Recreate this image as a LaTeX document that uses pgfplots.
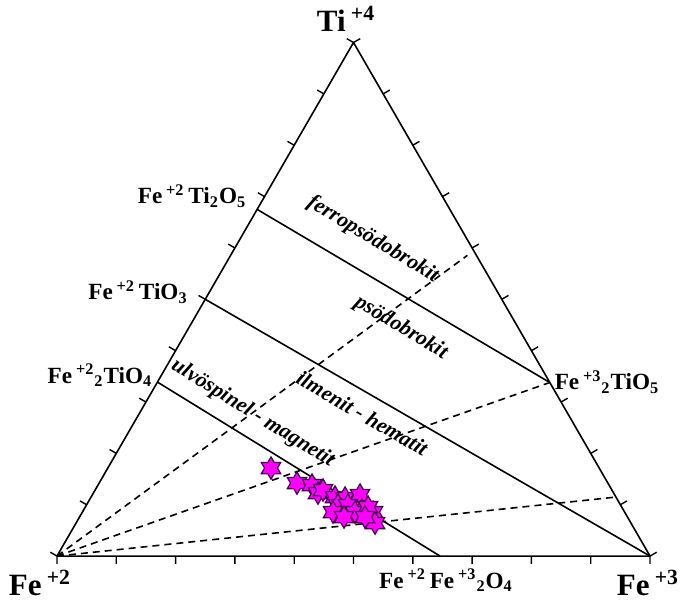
\documentclass[border=0pt]{standalone}
\usepackage{fontspec}
\setmainfont{Liberation Serif}
\usepackage{pgfplots}
\pgfplotsset{compat=1.18}

\definecolor{starfill}{RGB}{255,0,255}
\definecolor{staredge}{RGB}{70,0,80}

\pgfdeclareplotmark{hexstar}{%
 \pgfpathmoveto{\pgfqpoint{0pt}{\pgfplotmarksize}}%
 \pgfpathlineto{\pgfqpoint{-0.2887\pgfplotmarksize}{0.5\pgfplotmarksize}}%
 \pgfpathlineto{\pgfqpoint{-0.866\pgfplotmarksize}{0.5\pgfplotmarksize}}%
 \pgfpathlineto{\pgfqpoint{-0.5774\pgfplotmarksize}{0pt}}%
 \pgfpathlineto{\pgfqpoint{-0.866\pgfplotmarksize}{-0.5\pgfplotmarksize}}%
 \pgfpathlineto{\pgfqpoint{-0.2887\pgfplotmarksize}{-0.5\pgfplotmarksize}}%
 \pgfpathlineto{\pgfqpoint{0pt}{-\pgfplotmarksize}}%
 \pgfpathlineto{\pgfqpoint{0.2887\pgfplotmarksize}{-0.5\pgfplotmarksize}}%
 \pgfpathlineto{\pgfqpoint{0.866\pgfplotmarksize}{-0.5\pgfplotmarksize}}%
 \pgfpathlineto{\pgfqpoint{0.5774\pgfplotmarksize}{0pt}}%
 \pgfpathlineto{\pgfqpoint{0.866\pgfplotmarksize}{0.5\pgfplotmarksize}}%
 \pgfpathlineto{\pgfqpoint{0.2887\pgfplotmarksize}{0.5\pgfplotmarksize}}%
 \pgfpathclose
 \pgfusepathqfillstroke}

\newcommand{\corner}{\bfseries\fontsize{15.5}{18}\selectfont}
\newcommand{\lab}{\bfseries\fontsize{11.6}{13}\selectfont}
\newcommand{\fld}{\bfseries\itshape\fontsize{10.8}{12}\selectfont}

\begin{document}
\begin{tikzpicture}
\begin{axis}[x=296.5pt, y=296.5pt,
  xmin=-0.0961, xmax=1.0691, ymin=-0.0793, ymax=0.9376,
  hide axis, clip=false, unbounded coords=jump]

% bounding box
\addplot[draw=none, forget plot] coordinates {(-0.0961,-0.0793) (1.0691,0.9376)};

% triangle
\addplot[black, line width=0.8pt, line join=round] coordinates {(0,0) (1,0) (0.5,0.866025) (0,0)};

% ticks
\addplot[black, line width=0.7pt] coordinates {
(0,0) (0,-0.013) (nan,nan)
(0.1,0) (0.1,-0.013) (nan,nan)
(0.2,0) (0.2,-0.013) (nan,nan)
(0.3,0) (0.3,-0.013) (nan,nan)
(0.4,0) (0.4,-0.013) (nan,nan)
(0.5,0) (0.5,-0.013) (nan,nan)
(0.6,0) (0.6,-0.013) (nan,nan)
(0.7,0) (0.7,-0.013) (nan,nan)
(0.8,0) (0.8,-0.013) (nan,nan)
(0.9,0) (0.9,-0.013) (nan,nan)
(1,0) (1,-0.013) (nan,nan)
(0,0) (-0.0113,0.0065) (nan,nan)
(0.05,0.0866) (0.0387,0.0931) (nan,nan)
(0.10,0.1732) (0.0887,0.1797) (nan,nan)
(0.15,0.2598) (0.1387,0.2663) (nan,nan)
(0.20,0.3464) (0.1887,0.3529) (nan,nan)
(0.25,0.4330) (0.2387,0.4395) (nan,nan)
(0.30,0.5196) (0.2887,0.5261) (nan,nan)
(0.35,0.6062) (0.3387,0.6127) (nan,nan)
(0.40,0.6928) (0.3887,0.6993) (nan,nan)
(0.45,0.7794) (0.4387,0.7859) (nan,nan)
(0.50,0.8660) (0.4887,0.8725) (nan,nan)
(1,0) (1.0113,0.0065) (nan,nan)
(0.95,0.0866) (0.9613,0.0931) (nan,nan)
(0.90,0.1732) (0.9113,0.1797) (nan,nan)
(0.85,0.2598) (0.8613,0.2663) (nan,nan)
(0.80,0.3464) (0.8113,0.3529) (nan,nan)
(0.75,0.4330) (0.7613,0.4395) (nan,nan)
(0.70,0.5196) (0.7113,0.5261) (nan,nan)
(0.65,0.6062) (0.6613,0.6127) (nan,nan)
(0.60,0.6928) (0.6113,0.6993) (nan,nan)
(0.55,0.7794) (0.5613,0.7859) (nan,nan)
(0.50,0.8660) (0.5113,0.8725)
};

% solid tie lines
\addplot[black, line width=0.8pt] coordinates {(0.3375,0.5846) (0.831,0.2927)};
\addplot[black, line width=0.8pt] coordinates {(0.25,0.4330) (1,0)};
\addplot[black, line width=0.8pt] coordinates {(0.1694,0.2934) (0.6459,0)};

% dashed lines
\addplot[black, line width=0.8pt, dash pattern=on 3.5pt off 2.5pt] coordinates {(0,0) (0.692,0.507)};
\addplot[black, line width=0.8pt, dash pattern=on 3.5pt off 2.5pt] coordinates {(0,0) (0.831,0.2927)};
\addplot[black, line width=0.8pt, dash pattern=on 3.5pt off 2.5pt] coordinates {(0,0) (0.9426,0.0995)};

% samples
\addplot[only marks, mark=hexstar, mark size=5.6pt,
  mark options={fill=starfill, draw=staredge, line width=0.6pt}] coordinates {
(0.3609,0.1484)
(0.4047,0.1231)
(0.4300,0.1197)
(0.4401,0.1062)
(0.4486,0.1113)
(0.4688,0.0995)
(0.4857,0.0978)
(0.5110,0.1029)
(0.5143,0.0776)
(0.4739,0.0860)
(0.4907,0.0860)
(0.5329,0.0742)
(0.5363,0.0556)
(0.4654,0.0742)
(0.5025,0.0742)
(0.5245,0.0826)
(0.4840,0.0658)
(0.5194,0.0658)
};

% labels
\node[font=\corner] at (axis cs:0.4874,0.9056) {Ti\,\textsuperscript{+4}};
\node[font=\corner] at (axis cs:-0.0287,-0.0455) {Fe\,\textsuperscript{+2}};
\node[font=\corner] at (axis cs:0.9966,-0.0455) {Fe\,\textsuperscript{+3}};

\node[font=\lab] at (axis cs:0.656,-0.0405) {Fe\,\textsuperscript{+2}\,Fe\,\textsuperscript{+3}\textsubscript{2}O\textsubscript{4}};
\node[font=\lab] at (axis cs:0.2277,0.6071) {Fe\,\textsuperscript{+2}\,Ti\textsubscript{2}O\textsubscript{5}};
\node[font=\lab] at (axis cs:0.1366,0.4452) {Fe\,\textsuperscript{+2}\,TiO\textsubscript{3}};
\node[font=\lab] at (axis cs:0.0725,0.3052) {Fe\,\textsuperscript{+2}\textsubscript{2}TiO\textsubscript{4}};
\node[font=\lab] at (axis cs:0.9275,0.2934) {Fe\,\textsuperscript{+3}\textsubscript{2}TiO\textsubscript{5}};

\node[font=\fld, rotate=-31] at (axis cs:0.5330,0.5335) {ferropsödobrokit};
\node[font=\fld, rotate=-31] at (axis cs:0.5800,0.3850) {psödobrokit};
\node[font=\fld, rotate=-30] at (axis cs:0.5150,0.2405) {ilmenit - hematit};
\node[font=\fld, rotate=-31.7] at (axis cs:0.3300,0.2405) {ulvöspinel - magnetit};
\end{axis}
\end{tikzpicture}
\end{document}
